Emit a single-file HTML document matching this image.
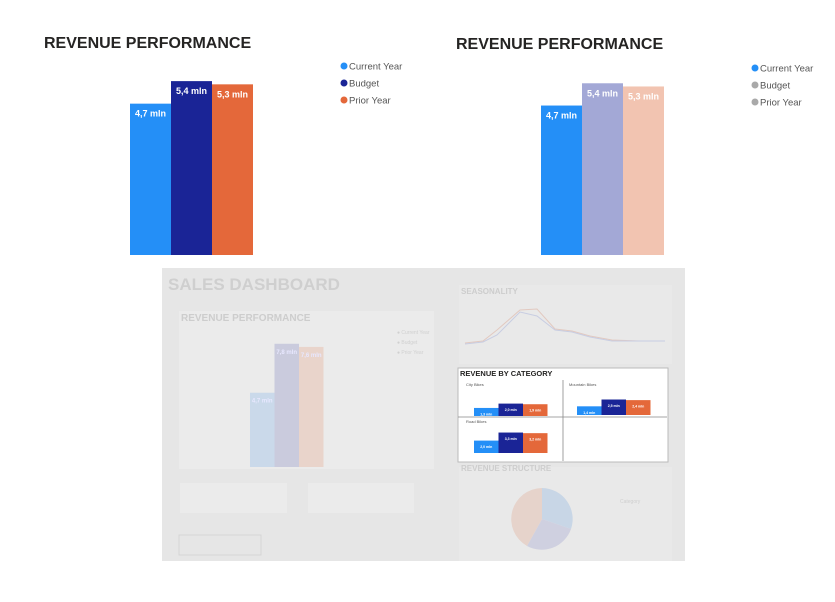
<!DOCTYPE html>
<html><head><meta charset="utf-8"><style>
body{margin:0;width:835px;height:602px;background:#fff;position:relative;overflow:hidden;font-family:"Liberation Sans",sans-serif}
svg{position:absolute;left:0;top:0}
</style></head><body>
<svg width="835" height="602" id="s">
<text x="44" y="48" font-size="16" font-weight="bold" fill="#252423">REVENUE PERFORMANCE</text>
<text x="456" y="49" font-size="16" font-weight="bold" fill="#252423">REVENUE PERFORMANCE</text>
<g id="left"></g>
<g id="right"></g>
<g>
<rect x="162" y="268" width="523" height="293" fill="#e6e6e6"/>
<text x="168" y="290" font-size="17" font-weight="bold" fill="#cfcfcf">SALES DASHBOARD</text>
<rect x="179" y="311" width="255" height="158" fill="#ebebeb"/>
<text x="181" y="321" font-size="10" font-weight="bold" fill="#cdcdcd">REVENUE PERFORMANCE</text>
<text x="397" y="334" font-size="5" fill="#d0d0d0">● Current Year</text>
<text x="397" y="344" font-size="5" fill="#d0d0d0">● Budget</text>
<text x="397" y="354" font-size="5" fill="#d0d0d0">● Prior Year</text>
<g id="thumb"></g>
<rect x="459" y="285" width="213" height="79" fill="#e9e9e9"/>
<text x="461" y="294" font-size="8" font-weight="bold" fill="#cdcdcd">SEASONALITY</text>
<polyline points="465,343 483,341 497,330 520,310 537,309 555,329 572,331 590,336 612,340 640,341 665,341" fill="none" stroke="#e2c9c0" stroke-width="1"/>
<polyline points="465,344 483,342 497,335 520,312 537,316 555,330 572,332 590,337 612,341 640,341 665,341" fill="none" stroke="#c8cde2" stroke-width="1"/>
<rect x="459" y="467" width="213" height="94" fill="#e9e9e9"/>
<text x="461" y="471" font-size="8" font-weight="bold" fill="#cdcdcd">REVENUE STRUCTURE</text>
<path d="M542,519 L542,488 A31,31 0 0 1 571,529 Z" fill="#c8d6e6"/>
<path d="M542,519 L571,529 A31,31 0 0 1 527,546 Z" fill="#cfd0e0"/>
<path d="M542,519 L527,546 A31,31 0 0 1 542,488 Z" fill="#e6d3cb"/>
<text x="620" y="503" font-size="5" fill="#cfcfcf">Category</text>
<rect x="180" y="483" width="107" height="30" fill="#ebebeb"/>
<rect x="308" y="483" width="106" height="30" fill="#ebebeb"/>
<rect x="179" y="535" width="82" height="20" fill="none" stroke="#d5d5d5"/>
<rect x="458" y="368" width="210" height="94" fill="#fff" stroke="#bbb"/>
<text x="460" y="376" font-size="7.5" font-weight="bold" fill="#252423">REVENUE BY CATEGORY</text>
<text x="466" y="386" font-size="4" fill="#555">City Bikes</text>
<text x="569" y="386" font-size="4" fill="#555">Mountain Bikes</text>
<text x="466" y="423" font-size="4" fill="#555">Road Bikes</text>
<line x1="458" y1="417" x2="667" y2="417" stroke="#888" stroke-width="0.8"/>
<line x1="563" y1="380" x2="563" y2="461" stroke="#888" stroke-width="0.8"/>
<g id="cat"></g>
</g>
</svg>
<script>
const cats=["Current Year","Budget","Prior Year"];
const vals=[4.7,5.4,5.3];
const labels=["4,7 mln","5,4 mln","5,3 mln"];
const thumbVals=[4.7,7.8,7.6];
const thumbLabels=["4,7 mln","7,8 mln","7,6 mln"];
const subNames=["City Bikes","Mountain Bikes","Road Bikes"];
const subVals=[[1.3,2.0,1.9],[1.4,2.5,2.4],[2.0,3.3,3.2]];
const subLabels=[["1,3 mln","2,0 mln","1,9 mln"],["1,4 mln","2,5 mln","2,4 mln"],["2,0 mln","3,3 mln","3,2 mln"]];
const NS="http://www.w3.org/2000/svg";
function mk(t,a,p){const e=document.createElementNS(NS,t);for(const k in a)e.setAttribute(k,a[k]);p.appendChild(e);return e;}
function bars(g,x0,bw,base,scale,v,lab,cols,fs,lcol){
  v.forEach((d,i)=>{const h=d*scale;
    const r=mk('rect',{x:x0+i*bw,y:base-h,width:bw,height:h,fill:cols[i]},g);
    
    
    const t=mk('text',{x:x0+i*bw+bw/2,y:base-h+fs+4,'font-size':fs,'font-weight':'bold','text-anchor':'middle',fill:lcol},g);
    t.textContent=lab[i];
  });
}
function legend(g,x,y,cols){
  cats.forEach((c,i)=>{mk('circle',{cx:x,cy:y+i*17,r:3.5,fill:cols[i]},g);
    const t=mk('text',{x:x+5,y:y+i*17+3.5,'font-size':9.5,fill:'#555'},g);t.textContent=c;
    
    });
}
const L=document.getElementById('left'),R=document.getElementById('right');
bars(L,130,41,255,32.2,vals,labels,["#248ff7","#1a2496","#e4683a"],9,"#fff");
legend(L,344,66,["#248ff7","#1a2496","#e4683a"]);
bars(R,541,41,255,31.8,vals,labels,["#248ff7","#a3a8d6","#f2c4b1"],9,"#fff");
legend(R,755,68,["#248ff7","#a9a9a9","#a9a9a9"]);
bars(document.getElementById('thumb'),250,24.5,467,15.8,thumbVals,thumbLabels,["#cad9ea","#cacbdd","#e9d4cb"],6,"#e8e8ff");
const C=document.getElementById('cat');
const pos=[[474,416],[577,415],[474,453]];
subVals.forEach((v,k)=>bars(C,pos[k][0],24.5,pos[k][1],6.2,v,subLabels[k],["#248ff7","#1a2496","#e4683a"],3.5,"#fff"));
</script>
</body></html>
